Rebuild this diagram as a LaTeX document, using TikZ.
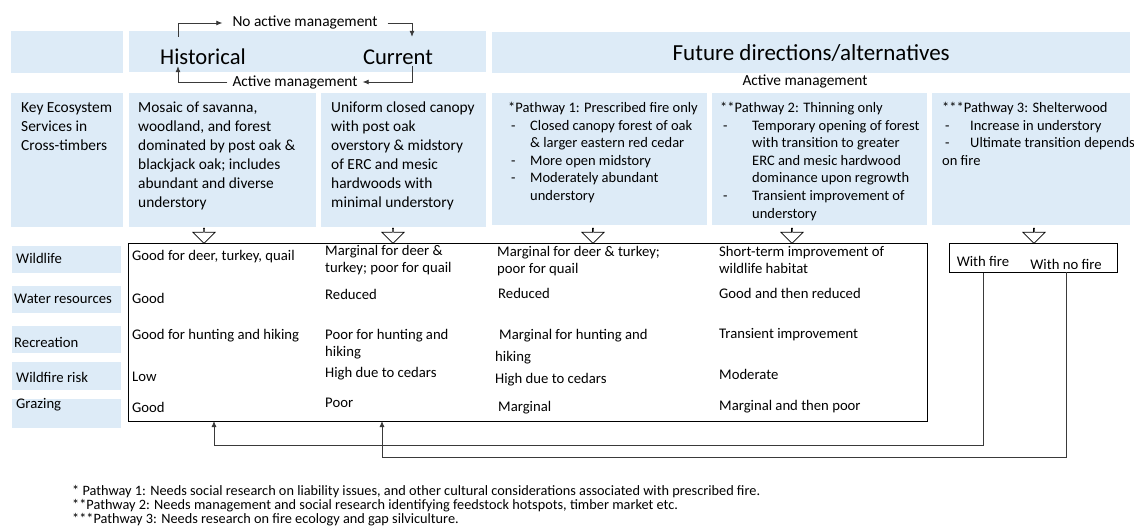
\documentclass[tikz,border=0pt]{standalone}
\usepackage{fontspec}
\setmainfont{Carlito}
\usetikzlibrary{shapes.arrows,arrows.meta}
\definecolor{boxblue}{HTML}{DDEBF7}
\definecolor{linegray}{HTML}{3A3A3A}
\tikzset{
  bbox/.style={fill=boxblue,inner sep=0pt,anchor=north west},
  frame/.style={draw,line width=1pt,inner sep=0pt,anchor=north west},
  big/.style={font=\fontsize{22.6}{27}\selectfont,inner sep=0pt,text height=27pt,text depth=2pt,anchor=base},
  mid/.style={font=\fontsize{15.4}{19}\selectfont,inner ysep=1pt},
  txt/.style={font=\fontsize{15.4}{19}\selectfont,inner sep=0pt,anchor=north west,align=left},
  ptxt/.style={font=\fontsize{14.5}{17.6}\selectfont,inner sep=0pt,anchor=north west,align=left},
  cell/.style={font=\fontsize{14.7}{17}\selectfont,inner sep=0pt,anchor=west,align=left},
  foot/.style={font=\fontsize{14.3}{14.2}\selectfont,inner sep=0pt,anchor=north west,align=left},
  hollow/.style={draw,fill=white,line width=0.7pt,single arrow,shape border rotate=270,
    minimum height=15pt,minimum width=22pt,single arrow head extend=6pt,inner sep=0pt},
  arr/.style={-{Latex[length=6pt,width=5pt]},line width=0.8pt,draw=linegray}
}
\newcommand\pdash[1]{\hspace*{3pt}\makebox[#1][l]{-}}
\begin{document}
\begin{tikzpicture}[x=1pt,y=-1pt]
\useasboundingbox (0,0) rectangle (1134,527);

% header row
\node[bbox,minimum width=112,minimum height=42] (hleft) at (11,31) {};
\node[bbox,minimum width=357,minimum height=41] (hnow) at (129,31) {};
\node[bbox,minimum width=638,minimum height=41,font=\fontsize{23}{27}\selectfont] (hfut) at (492,32) {Future directions/alternatives};
\node[big] (hist) at (203,64) {Historical};
\node[big] (curr) at (398,64) {Current};
\node[mid,inner xsep=10pt] (noam) at (305,23) {No active management};
\node[mid,inner xsep=5pt] (am) at (295,82) {Active management};
\node[mid] (amfut) at (805,81) {Active management};

\draw[arr] ([xshift=-25pt]hist.north) |- (noam.west);
\draw[arr] (noam.east) -| ([xshift=14pt]curr.north);
\draw[arr] ([xshift=14pt]curr.south) |- (am.east);
\draw[arr] (am.west) -| ([xshift=-25pt]hist.south);

% description row
\node[bbox,minimum width=112,minimum height=134] (kes) at (11,93) {};
\node[bbox,minimum width=187,minimum height=134] (histd) at (129,93) {};
\node[bbox,minimum width=165,minimum height=134] (currd) at (321,93) {};
\node[bbox,minimum width=215,minimum height=132] (path1) at (492,93) {};
\node[bbox,minimum width=215,minimum height=132] (path2) at (712,93) {};
\node[bbox,minimum width=198,minimum height=132] (path3) at (932,93) {};

\node[txt] (kestxt) at (21,102) {Key Ecosystem\\Services in\\Cross-timbers};
\node[txt] (histtxt) at (138,102) {Mosaic of savanna,\\woodland, and forest\\dominated by post oak \&\\blackjack oak; includes\\abundant and diverse\\understory};
\node[txt] (currtxt) at (331,102) {Uniform closed canopy\\with post oak\\overstory \& midstory\\of ERC and mesic\\hardwoods with\\minimal understory};
\node[ptxt] (p1txt) at (508,102) {*Pathway 1: Prescribed fire only\\
  \pdash{19pt}Closed canopy forest of oak\\
  \hspace*{22pt}\& larger eastern red cedar\\
  \pdash{19pt}More open midstory\\
  \pdash{19pt}Moderately abundant\\
  \hspace*{22pt}understory};
\node[ptxt] (p2txt) at (720,102) {**Pathway 2: Thinning only\\
  \pdash{29pt}Temporary opening of forest\\
  \hspace*{32pt}with transition to greater\\
  \hspace*{32pt}ERC and mesic hardwood\\
  \hspace*{32pt}dominance upon regrowth\\
  \pdash{29pt}Transient improvement of\\
  \hspace*{32pt}understory};
\node[ptxt] (p3txt) at (942,102) {***Pathway 3: Shelterwood\\
  \pdash{25pt}Increase in understory\\
  \pdash{25pt}Ultimate transition depends\\
  on fire};

\foreach \x in {204,393,593,792,1034}
  \node[hollow] (down\x) at (\x,235.5) {};

% service rows
\node[bbox,minimum width=109,minimum height=27] (wild) at (12,246) {};
\node[bbox,minimum width=109,minimum height=27] (water) at (12,286) {};
\node[bbox,minimum width=109,minimum height=27] (recr) at (12,326) {};
\node[bbox,minimum width=109,minimum height=28] (risk) at (12,362) {};
\node[bbox,minimum width=109,minimum height=29] (graz) at (12,399) {};
\node[cell] (wildtxt) at (16,258) {Wildlife};
\node[cell] (watertxt) at (14,299) {Water resources};
\node[cell] (recrtxt) at (14,342) {Recreation};
\node[cell] (risktxt) at (16,377) {Wildfire risk};
\node[cell] (graztxt) at (16,405) {Grazing};

\node[frame,minimum width=799,minimum height=178] (tbl) at (128,243) {};

\node[cell] (h1) at (132,257) {Good for deer, turkey, quail};
\node[cell] (h2) at (132,298) {Good};
\node[cell] (h3) at (132,336) {Good for hunting and hiking};
\node[cell] (h4) at (132,377) {Low};
\node[cell] (h5) at (132,407) {Good};

\node[cell] (c1) at (325,260.5) {Marginal for deer \&\\turkey; poor for quail};
\node[cell] (c2) at (325,294) {Reduced};
\node[cell] (c3) at (325,344.5) {Poor for hunting and\\hiking};
\node[cell] (c4) at (325,374) {High due to cedars};
\node[cell] (c5) at (325,403) {Poor};

\node[cell] (a1) at (497,261.5) {Marginal for deer \& turkey;\\poor for quail};
\node[cell] (a2) at (498,293) {Reduced};
\node[cell] (a3) at (495,347) {\hspace*{4pt}Marginal for hunting and\\[5pt]hiking};
\node[cell] (a4) at (495,380) {High due to cedars};
\node[cell] (a5) at (498,408) {Marginal};

\node[cell] (b1) at (719,260) {Short-term improvement of\\wildlife habitat};
\node[cell] (b2) at (719,293) {Good and then reduced};
\node[cell] (b3) at (719,335) {Transient improvement};
\node[cell] (b4) at (719,374) {Moderate};
\node[cell] (b5) at (719,407) {Marginal and then poor};

\node[frame,minimum width=168,minimum height=29] (fbox) at (949,243) {};
\node[cell,anchor=center] (wfire) at (983,261) {With fire};
\node[cell,anchor=center,inner ysep=3pt] (wnofire) at (1066,264) {With no fire};

\coordinate (tin1) at (214,421);
\coordinate (tin2) at (382,421);
\draw[arr] (fbox.south -| wfire) -- (wfire |- 0,445) -| (tin1);
\draw[arr] (wnofire.south) -- (wnofire |- 0,457) -| (tin2);

% notes
\node[foot] (notes) at (72,485) {* Pathway 1: Needs social research on liability issues, and other cultural considerations associated with prescribed fire.\\
**Pathway 2: Needs management and social research identifying feedstock hotspots, timber market etc.\\
***Pathway 3: Needs research on fire ecology and gap silviculture.};
\end{tikzpicture}
\end{document}
